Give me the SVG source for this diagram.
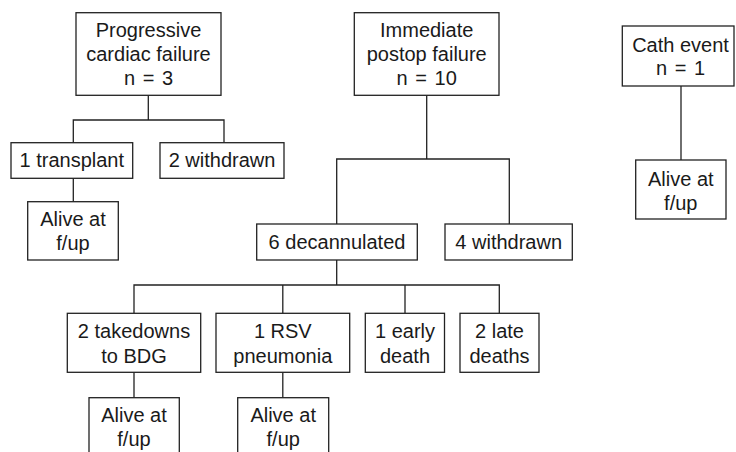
<svg xmlns="http://www.w3.org/2000/svg" width="736" height="452" viewBox="0 0 736 452">
<style>
rect{fill:#fff;stroke:#222;stroke-width:1.3}
.c path{fill:none;stroke:#222;stroke-width:1.3}
text{font-family:"Liberation Sans",Arial,sans-serif;font-size:20px;fill:#1a1a1a;text-anchor:middle}
.eq{word-spacing:2px}
</style>
<rect x="0" y="0" width="736" height="452" style="stroke:none"/>
<g class="c" id="connectors">
<path d="M148.3 95.3V120M73.3 142.7V120H224V142.7"/>
<path d="M73.3 178.3V201.7"/>
<path d="M426.7 95.3V159M336.7 224V159H509.3V224"/>
<path d="M336.7 260V285M134 313.3V285H499.3V313.3M282.8 285V313.3M405 285V313.3"/>
<path d="M134 372.3V397.7M282.8 372.3V397.7"/>
<path d="M681 86V160"/>
</g>
<g id="progressive"><rect x="76" y="12.7" width="145" height="82.6"/><text x="148.5" y="36.7">Progressive</text><text x="148.5" y="61">cardiac failure</text><text class="eq" x="148.5" y="85">n = 3</text></g>
<g id="immediate"><rect x="354.3" y="12.7" width="144.7" height="82.6"/><text x="426.7" y="36.7">Immediate</text><text x="426.7" y="61">postop failure</text><text class="eq" x="426.7" y="85">n = 10</text></g>
<g id="cath"><rect x="622.3" y="26" width="111.7" height="60"/><text x="680.5" y="51.7">Cath event</text><text class="eq" x="680.5" y="75">n = 1</text></g>
<g id="transplant"><rect x="11" y="142.7" width="121.7" height="35.6"/><text x="71.8" y="167">1 transplant</text></g>
<g id="withdrawn2"><rect x="160" y="142.7" width="124" height="35.6"/><text x="222" y="167">2 withdrawn</text></g>
<g id="alive1"><rect x="27.7" y="201.7" width="90.6" height="58.3"/><text x="73" y="226">Alive at</text><text x="73" y="250">f/up</text></g>
<g id="alivecath"><rect x="635.7" y="160" width="90.3" height="59"/><text x="680.8" y="185.5">Alive at</text><text x="680.8" y="209.5">f/up</text></g>
<g id="decannulated"><rect x="256.7" y="224" width="160.6" height="36"/><text x="337" y="249">6 decannulated</text></g>
<g id="withdrawn4"><rect x="445" y="224" width="127.3" height="36"/><text x="508.7" y="249">4 withdrawn</text></g>
<g id="takedowns"><rect x="67.3" y="313.3" width="133.4" height="59"/><text x="134" y="338">2 takedowns</text><text x="134" y="362.5">to BDG</text></g>
<g id="rsv"><rect x="216" y="313.3" width="133.7" height="59"/><text x="282.8" y="338">1 RSV</text><text x="282.8" y="362.5">pneumonia</text></g>
<g id="early"><rect x="365.3" y="313.3" width="79.2" height="59"/><text x="405" y="338">1 early</text><text x="405" y="362.5">death</text></g>
<g id="late"><rect x="460" y="313.3" width="79" height="59"/><text x="499.5" y="338">2 late</text><text x="499.5" y="362.5">deaths</text></g>
<g id="alive2"><rect x="89" y="397.7" width="90.3" height="62"/><text x="134" y="422">Alive at</text><text x="134" y="446">f/up</text></g>
<g id="alive3"><rect x="237.7" y="397.7" width="91" height="62"/><text x="283.2" y="422">Alive at</text><text x="283.2" y="446">f/up</text></g>
</svg>
